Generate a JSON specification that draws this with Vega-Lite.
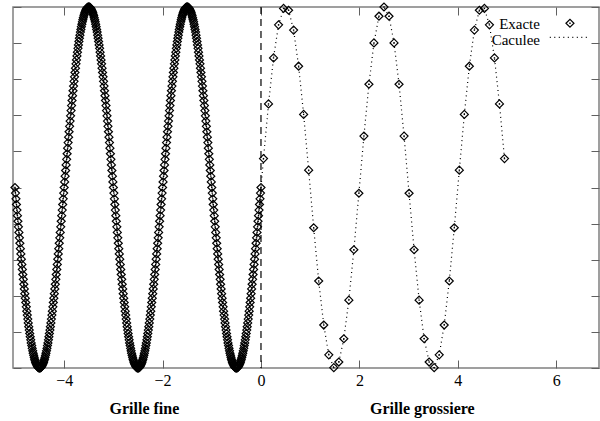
{
"$schema":"https://vega.github.io/schema/vega-lite/v6.json",
"width":586,"height":361,
"autosize":{"type":"none"},
"padding":{"left":13,"top":7,"right":1,"bottom":53},
"background":"white",
"config":{"view":{"stroke":"#808080","strokeWidth":1.5},"font":"Liberation Serif"},
"datasets":{"pts":[
{"x":-5,"y":0},{"x":-4.99,"y":-0.031},{"x":-4.98,"y":-0.063},{"x":-4.97,"y":-0.094},{"x":-4.96,"y":-0.125},{"x":-4.95,"y":-0.156},{"x":-4.94,"y":-0.187},{"x":-4.93,"y":-0.218},{"x":-4.92,"y":-0.249},{"x":-4.91,"y":-0.279},
{"x":-4.9,"y":-0.309},{"x":-4.89,"y":-0.339},{"x":-4.88,"y":-0.368},{"x":-4.87,"y":-0.397},{"x":-4.86,"y":-0.426},{"x":-4.85,"y":-0.454},{"x":-4.84,"y":-0.482},{"x":-4.83,"y":-0.509},{"x":-4.82,"y":-0.536},{"x":-4.81,"y":-0.562},
{"x":-4.8,"y":-0.588},{"x":-4.79,"y":-0.613},{"x":-4.78,"y":-0.637},{"x":-4.77,"y":-0.661},{"x":-4.76,"y":-0.685},{"x":-4.75,"y":-0.707},{"x":-4.74,"y":-0.729},{"x":-4.73,"y":-0.75},{"x":-4.72,"y":-0.771},{"x":-4.71,"y":-0.79},
{"x":-4.7,"y":-0.809},{"x":-4.69,"y":-0.827},{"x":-4.68,"y":-0.844},{"x":-4.67,"y":-0.861},{"x":-4.66,"y":-0.876},{"x":-4.65,"y":-0.891},{"x":-4.64,"y":-0.905},{"x":-4.63,"y":-0.918},{"x":-4.62,"y":-0.93},{"x":-4.61,"y":-0.941},
{"x":-4.6,"y":-0.951},{"x":-4.59,"y":-0.96},{"x":-4.58,"y":-0.969},{"x":-4.57,"y":-0.976},{"x":-4.56,"y":-0.982},{"x":-4.55,"y":-0.988},{"x":-4.54,"y":-0.992},{"x":-4.53,"y":-0.996},{"x":-4.52,"y":-0.998},{"x":-4.51,"y":-1},
{"x":-4.5,"y":-1},{"x":-4.49,"y":-1},{"x":-4.48,"y":-0.998},{"x":-4.47,"y":-0.996},{"x":-4.46,"y":-0.992},{"x":-4.45,"y":-0.988},{"x":-4.44,"y":-0.982},{"x":-4.43,"y":-0.976},{"x":-4.42,"y":-0.969},{"x":-4.41,"y":-0.96},
{"x":-4.4,"y":-0.951},{"x":-4.39,"y":-0.941},{"x":-4.38,"y":-0.93},{"x":-4.37,"y":-0.918},{"x":-4.36,"y":-0.905},{"x":-4.35,"y":-0.891},{"x":-4.34,"y":-0.876},{"x":-4.33,"y":-0.861},{"x":-4.32,"y":-0.844},{"x":-4.31,"y":-0.827},
{"x":-4.3,"y":-0.809},{"x":-4.29,"y":-0.79},{"x":-4.28,"y":-0.771},{"x":-4.27,"y":-0.75},{"x":-4.26,"y":-0.729},{"x":-4.25,"y":-0.707},{"x":-4.24,"y":-0.685},{"x":-4.23,"y":-0.661},{"x":-4.22,"y":-0.637},{"x":-4.21,"y":-0.613},
{"x":-4.2,"y":-0.588},{"x":-4.19,"y":-0.562},{"x":-4.18,"y":-0.536},{"x":-4.17,"y":-0.509},{"x":-4.16,"y":-0.482},{"x":-4.15,"y":-0.454},{"x":-4.14,"y":-0.426},{"x":-4.13,"y":-0.397},{"x":-4.12,"y":-0.368},{"x":-4.11,"y":-0.339},
{"x":-4.1,"y":-0.309},{"x":-4.09,"y":-0.279},{"x":-4.08,"y":-0.249},{"x":-4.07,"y":-0.218},{"x":-4.06,"y":-0.187},{"x":-4.05,"y":-0.156},{"x":-4.04,"y":-0.125},{"x":-4.03,"y":-0.094},{"x":-4.02,"y":-0.063},{"x":-4.01,"y":-0.031},
{"x":-4,"y":0},{"x":-3.99,"y":0.031},{"x":-3.98,"y":0.063},{"x":-3.97,"y":0.094},{"x":-3.96,"y":0.125},{"x":-3.95,"y":0.156},{"x":-3.94,"y":0.187},{"x":-3.93,"y":0.218},{"x":-3.92,"y":0.249},{"x":-3.91,"y":0.279},
{"x":-3.9,"y":0.309},{"x":-3.89,"y":0.339},{"x":-3.88,"y":0.368},{"x":-3.87,"y":0.397},{"x":-3.86,"y":0.426},{"x":-3.85,"y":0.454},{"x":-3.84,"y":0.482},{"x":-3.83,"y":0.509},{"x":-3.82,"y":0.536},{"x":-3.81,"y":0.562},
{"x":-3.8,"y":0.588},{"x":-3.79,"y":0.613},{"x":-3.78,"y":0.637},{"x":-3.77,"y":0.661},{"x":-3.76,"y":0.685},{"x":-3.75,"y":0.707},{"x":-3.74,"y":0.729},{"x":-3.73,"y":0.75},{"x":-3.72,"y":0.771},{"x":-3.71,"y":0.79},
{"x":-3.7,"y":0.809},{"x":-3.69,"y":0.827},{"x":-3.68,"y":0.844},{"x":-3.67,"y":0.861},{"x":-3.66,"y":0.876},{"x":-3.65,"y":0.891},{"x":-3.64,"y":0.905},{"x":-3.63,"y":0.918},{"x":-3.62,"y":0.93},{"x":-3.61,"y":0.941},
{"x":-3.6,"y":0.951},{"x":-3.59,"y":0.96},{"x":-3.58,"y":0.969},{"x":-3.57,"y":0.976},{"x":-3.56,"y":0.982},{"x":-3.55,"y":0.988},{"x":-3.54,"y":0.992},{"x":-3.53,"y":0.996},{"x":-3.52,"y":0.998},{"x":-3.51,"y":1},
{"x":-3.5,"y":1},{"x":-3.49,"y":1},{"x":-3.48,"y":0.998},{"x":-3.47,"y":0.996},{"x":-3.46,"y":0.992},{"x":-3.45,"y":0.988},{"x":-3.44,"y":0.982},{"x":-3.43,"y":0.976},{"x":-3.42,"y":0.969},{"x":-3.41,"y":0.96},
{"x":-3.4,"y":0.951},{"x":-3.39,"y":0.941},{"x":-3.38,"y":0.93},{"x":-3.37,"y":0.918},{"x":-3.36,"y":0.905},{"x":-3.35,"y":0.891},{"x":-3.34,"y":0.876},{"x":-3.33,"y":0.861},{"x":-3.32,"y":0.844},{"x":-3.31,"y":0.827},
{"x":-3.3,"y":0.809},{"x":-3.29,"y":0.79},{"x":-3.28,"y":0.771},{"x":-3.27,"y":0.75},{"x":-3.26,"y":0.729},{"x":-3.25,"y":0.707},{"x":-3.24,"y":0.685},{"x":-3.23,"y":0.661},{"x":-3.22,"y":0.637},{"x":-3.21,"y":0.613},
{"x":-3.2,"y":0.588},{"x":-3.19,"y":0.562},{"x":-3.18,"y":0.536},{"x":-3.17,"y":0.509},{"x":-3.16,"y":0.482},{"x":-3.15,"y":0.454},{"x":-3.14,"y":0.426},{"x":-3.13,"y":0.397},{"x":-3.12,"y":0.368},{"x":-3.11,"y":0.339},
{"x":-3.1,"y":0.309},{"x":-3.09,"y":0.279},{"x":-3.08,"y":0.249},{"x":-3.07,"y":0.218},{"x":-3.06,"y":0.187},{"x":-3.05,"y":0.156},{"x":-3.04,"y":0.125},{"x":-3.03,"y":0.094},{"x":-3.02,"y":0.063},{"x":-3.01,"y":0.031},
{"x":-3,"y":0},{"x":-2.99,"y":-0.031},{"x":-2.98,"y":-0.063},{"x":-2.97,"y":-0.094},{"x":-2.96,"y":-0.125},{"x":-2.95,"y":-0.156},{"x":-2.94,"y":-0.187},{"x":-2.93,"y":-0.218},{"x":-2.92,"y":-0.249},{"x":-2.91,"y":-0.279},
{"x":-2.9,"y":-0.309},{"x":-2.89,"y":-0.339},{"x":-2.88,"y":-0.368},{"x":-2.87,"y":-0.397},{"x":-2.86,"y":-0.426},{"x":-2.85,"y":-0.454},{"x":-2.84,"y":-0.482},{"x":-2.83,"y":-0.509},{"x":-2.82,"y":-0.536},{"x":-2.81,"y":-0.562},
{"x":-2.8,"y":-0.588},{"x":-2.79,"y":-0.613},{"x":-2.78,"y":-0.637},{"x":-2.77,"y":-0.661},{"x":-2.76,"y":-0.685},{"x":-2.75,"y":-0.707},{"x":-2.74,"y":-0.729},{"x":-2.73,"y":-0.75},{"x":-2.72,"y":-0.771},{"x":-2.71,"y":-0.79},
{"x":-2.7,"y":-0.809},{"x":-2.69,"y":-0.827},{"x":-2.68,"y":-0.844},{"x":-2.67,"y":-0.861},{"x":-2.66,"y":-0.876},{"x":-2.65,"y":-0.891},{"x":-2.64,"y":-0.905},{"x":-2.63,"y":-0.918},{"x":-2.62,"y":-0.93},{"x":-2.61,"y":-0.941},
{"x":-2.6,"y":-0.951},{"x":-2.59,"y":-0.96},{"x":-2.58,"y":-0.969},{"x":-2.57,"y":-0.976},{"x":-2.56,"y":-0.982},{"x":-2.55,"y":-0.988},{"x":-2.54,"y":-0.992},{"x":-2.53,"y":-0.996},{"x":-2.52,"y":-0.998},{"x":-2.51,"y":-1},
{"x":-2.5,"y":-1},{"x":-2.49,"y":-1},{"x":-2.48,"y":-0.998},{"x":-2.47,"y":-0.996},{"x":-2.46,"y":-0.992},{"x":-2.45,"y":-0.988},{"x":-2.44,"y":-0.982},{"x":-2.43,"y":-0.976},{"x":-2.42,"y":-0.969},{"x":-2.41,"y":-0.96},
{"x":-2.4,"y":-0.951},{"x":-2.39,"y":-0.941},{"x":-2.38,"y":-0.93},{"x":-2.37,"y":-0.918},{"x":-2.36,"y":-0.905},{"x":-2.35,"y":-0.891},{"x":-2.34,"y":-0.876},{"x":-2.33,"y":-0.861},{"x":-2.32,"y":-0.844},{"x":-2.31,"y":-0.827},
{"x":-2.3,"y":-0.809},{"x":-2.29,"y":-0.79},{"x":-2.28,"y":-0.771},{"x":-2.27,"y":-0.75},{"x":-2.26,"y":-0.729},{"x":-2.25,"y":-0.707},{"x":-2.24,"y":-0.685},{"x":-2.23,"y":-0.661},{"x":-2.22,"y":-0.637},{"x":-2.21,"y":-0.613},
{"x":-2.2,"y":-0.588},{"x":-2.19,"y":-0.562},{"x":-2.18,"y":-0.536},{"x":-2.17,"y":-0.509},{"x":-2.16,"y":-0.482},{"x":-2.15,"y":-0.454},{"x":-2.14,"y":-0.426},{"x":-2.13,"y":-0.397},{"x":-2.12,"y":-0.368},{"x":-2.11,"y":-0.339},
{"x":-2.1,"y":-0.309},{"x":-2.09,"y":-0.279},{"x":-2.08,"y":-0.249},{"x":-2.07,"y":-0.218},{"x":-2.06,"y":-0.187},{"x":-2.05,"y":-0.156},{"x":-2.04,"y":-0.125},{"x":-2.03,"y":-0.094},{"x":-2.02,"y":-0.063},{"x":-2.01,"y":-0.031},
{"x":-2,"y":0},{"x":-1.99,"y":0.031},{"x":-1.98,"y":0.063},{"x":-1.97,"y":0.094},{"x":-1.96,"y":0.125},{"x":-1.95,"y":0.156},{"x":-1.94,"y":0.187},{"x":-1.93,"y":0.218},{"x":-1.92,"y":0.249},{"x":-1.91,"y":0.279},
{"x":-1.9,"y":0.309},{"x":-1.89,"y":0.339},{"x":-1.88,"y":0.368},{"x":-1.87,"y":0.397},{"x":-1.86,"y":0.426},{"x":-1.85,"y":0.454},{"x":-1.84,"y":0.482},{"x":-1.83,"y":0.509},{"x":-1.82,"y":0.536},{"x":-1.81,"y":0.562},
{"x":-1.8,"y":0.588},{"x":-1.79,"y":0.613},{"x":-1.78,"y":0.637},{"x":-1.77,"y":0.661},{"x":-1.76,"y":0.685},{"x":-1.75,"y":0.707},{"x":-1.74,"y":0.729},{"x":-1.73,"y":0.75},{"x":-1.72,"y":0.771},{"x":-1.71,"y":0.79},
{"x":-1.7,"y":0.809},{"x":-1.69,"y":0.827},{"x":-1.68,"y":0.844},{"x":-1.67,"y":0.861},{"x":-1.66,"y":0.876},{"x":-1.65,"y":0.891},{"x":-1.64,"y":0.905},{"x":-1.63,"y":0.918},{"x":-1.62,"y":0.93},{"x":-1.61,"y":0.941},
{"x":-1.6,"y":0.951},{"x":-1.59,"y":0.96},{"x":-1.58,"y":0.969},{"x":-1.57,"y":0.976},{"x":-1.56,"y":0.982},{"x":-1.55,"y":0.988},{"x":-1.54,"y":0.992},{"x":-1.53,"y":0.996},{"x":-1.52,"y":0.998},{"x":-1.51,"y":1},
{"x":-1.5,"y":1},{"x":-1.49,"y":1},{"x":-1.48,"y":0.998},{"x":-1.47,"y":0.996},{"x":-1.46,"y":0.992},{"x":-1.45,"y":0.988},{"x":-1.44,"y":0.982},{"x":-1.43,"y":0.976},{"x":-1.42,"y":0.969},{"x":-1.41,"y":0.96},
{"x":-1.4,"y":0.951},{"x":-1.39,"y":0.941},{"x":-1.38,"y":0.93},{"x":-1.37,"y":0.918},{"x":-1.36,"y":0.905},{"x":-1.35,"y":0.891},{"x":-1.34,"y":0.876},{"x":-1.33,"y":0.861},{"x":-1.32,"y":0.844},{"x":-1.31,"y":0.827},
{"x":-1.3,"y":0.809},{"x":-1.29,"y":0.79},{"x":-1.28,"y":0.771},{"x":-1.27,"y":0.75},{"x":-1.26,"y":0.729},{"x":-1.25,"y":0.707},{"x":-1.24,"y":0.685},{"x":-1.23,"y":0.661},{"x":-1.22,"y":0.637},{"x":-1.21,"y":0.613},
{"x":-1.2,"y":0.588},{"x":-1.19,"y":0.562},{"x":-1.18,"y":0.536},{"x":-1.17,"y":0.509},{"x":-1.16,"y":0.482},{"x":-1.15,"y":0.454},{"x":-1.14,"y":0.426},{"x":-1.13,"y":0.397},{"x":-1.12,"y":0.368},{"x":-1.11,"y":0.339},
{"x":-1.1,"y":0.309},{"x":-1.09,"y":0.279},{"x":-1.08,"y":0.249},{"x":-1.07,"y":0.218},{"x":-1.06,"y":0.187},{"x":-1.05,"y":0.156},{"x":-1.04,"y":0.125},{"x":-1.03,"y":0.094},{"x":-1.02,"y":0.063},{"x":-1.01,"y":0.031},
{"x":-1,"y":0},{"x":-0.99,"y":-0.031},{"x":-0.98,"y":-0.063},{"x":-0.97,"y":-0.094},{"x":-0.96,"y":-0.125},{"x":-0.95,"y":-0.156},{"x":-0.94,"y":-0.187},{"x":-0.93,"y":-0.218},{"x":-0.92,"y":-0.249},{"x":-0.91,"y":-0.279},
{"x":-0.9,"y":-0.309},{"x":-0.89,"y":-0.339},{"x":-0.88,"y":-0.368},{"x":-0.87,"y":-0.397},{"x":-0.86,"y":-0.426},{"x":-0.85,"y":-0.454},{"x":-0.84,"y":-0.482},{"x":-0.83,"y":-0.509},{"x":-0.82,"y":-0.536},{"x":-0.81,"y":-0.562},
{"x":-0.8,"y":-0.588},{"x":-0.79,"y":-0.613},{"x":-0.78,"y":-0.637},{"x":-0.77,"y":-0.661},{"x":-0.76,"y":-0.685},{"x":-0.75,"y":-0.707},{"x":-0.74,"y":-0.729},{"x":-0.73,"y":-0.75},{"x":-0.72,"y":-0.771},{"x":-0.71,"y":-0.79},
{"x":-0.7,"y":-0.809},{"x":-0.69,"y":-0.827},{"x":-0.68,"y":-0.844},{"x":-0.67,"y":-0.861},{"x":-0.66,"y":-0.876},{"x":-0.65,"y":-0.891},{"x":-0.64,"y":-0.905},{"x":-0.63,"y":-0.918},{"x":-0.62,"y":-0.93},{"x":-0.61,"y":-0.941},
{"x":-0.6,"y":-0.951},{"x":-0.59,"y":-0.96},{"x":-0.58,"y":-0.969},{"x":-0.57,"y":-0.976},{"x":-0.56,"y":-0.982},{"x":-0.55,"y":-0.988},{"x":-0.54,"y":-0.992},{"x":-0.53,"y":-0.996},{"x":-0.52,"y":-0.998},{"x":-0.51,"y":-1},
{"x":-0.5,"y":-1},{"x":-0.49,"y":-1},{"x":-0.48,"y":-0.998},{"x":-0.47,"y":-0.996},{"x":-0.46,"y":-0.992},{"x":-0.45,"y":-0.988},{"x":-0.44,"y":-0.982},{"x":-0.43,"y":-0.976},{"x":-0.42,"y":-0.969},{"x":-0.41,"y":-0.96},
{"x":-0.4,"y":-0.951},{"x":-0.39,"y":-0.941},{"x":-0.38,"y":-0.93},{"x":-0.37,"y":-0.918},{"x":-0.36,"y":-0.905},{"x":-0.35,"y":-0.891},{"x":-0.34,"y":-0.876},{"x":-0.33,"y":-0.861},{"x":-0.32,"y":-0.844},{"x":-0.31,"y":-0.827},
{"x":-0.3,"y":-0.809},{"x":-0.29,"y":-0.79},{"x":-0.28,"y":-0.771},{"x":-0.27,"y":-0.75},{"x":-0.26,"y":-0.729},{"x":-0.25,"y":-0.707},{"x":-0.24,"y":-0.685},{"x":-0.23,"y":-0.661},{"x":-0.22,"y":-0.637},{"x":-0.21,"y":-0.613},
{"x":-0.2,"y":-0.588},{"x":-0.19,"y":-0.562},{"x":-0.18,"y":-0.536},{"x":-0.17,"y":-0.509},{"x":-0.16,"y":-0.482},{"x":-0.15,"y":-0.454},{"x":-0.14,"y":-0.426},{"x":-0.13,"y":-0.397},{"x":-0.12,"y":-0.368},{"x":-0.11,"y":-0.339},
{"x":-0.1,"y":-0.309},{"x":-0.09,"y":-0.279},{"x":-0.08,"y":-0.249},{"x":-0.07,"y":-0.218},{"x":-0.06,"y":-0.187},{"x":-0.05,"y":-0.156},{"x":-0.04,"y":-0.125},{"x":-0.03,"y":-0.094},{"x":-0.02,"y":-0.063},{"x":-0.01,"y":-0.031},
{"x":0,"y":0},
{"x":0.051,"y":0.16},{"x":0.153,"y":0.463},{"x":0.255,"y":0.718},{"x":0.357,"y":0.901},{"x":0.459,"y":0.992},{"x":0.561,"y":0.982},{"x":0.663,"y":0.872},{"x":0.765,"y":0.672},{"x":0.867,"y":0.405},{"x":0.969,"y":0.096},
{"x":1.071,"y":-0.223},{"x":1.173,"y":-0.518},{"x":1.276,"y":-0.762},{"x":1.378,"y":-0.927},{"x":1.48,"y":-0.998},{"x":1.582,"y":-0.967},{"x":1.684,"y":-0.838},{"x":1.786,"y":-0.624},{"x":1.888,"y":-0.345},{"x":1.99,"y":-0.032},
{"x":2.092,"y":0.285},{"x":2.194,"y":0.572},{"x":2.296,"y":0.801},{"x":2.398,"y":0.949},{"x":2.5,"y":1},{"x":2.602,"y":0.949},{"x":2.704,"y":0.801},{"x":2.806,"y":0.572},{"x":2.908,"y":0.285},{"x":3.01,"y":-0.032},
{"x":3.112,"y":-0.345},{"x":3.214,"y":-0.624},{"x":3.316,"y":-0.838},{"x":3.418,"y":-0.967},{"x":3.52,"y":-0.998},{"x":3.622,"y":-0.927},{"x":3.724,"y":-0.762},{"x":3.827,"y":-0.518},{"x":3.929,"y":-0.223},{"x":4.031,"y":0.096},
{"x":4.133,"y":0.405},{"x":4.235,"y":0.672},{"x":4.337,"y":0.872},{"x":4.439,"y":0.982},{"x":4.541,"y":0.992},{"x":4.643,"y":0.901},{"x":4.745,"y":0.718},{"x":4.847,"y":0.463},{"x":4.949,"y":0.16}
]},
"resolve":{"axis":{"x":"independent","y":"independent"}},
"layer":[
{"data":{"values":[{}]},
 "mark":{"type":"rule","color":"#000","strokeDash":[7,5],"strokeWidth":1.2},
 "encoding":{"x":{"datum":0,"type":"quantitative","scale":{"domain":[-5.04,6.87],"nice":false,"zero":false},"axis":null}}},
{"data":{"name":"pts"},
 "mark":{"type":"line","color":"#000","strokeDash":[1,3.5],"strokeWidth":1.2},
 "encoding":{
  "x":{"field":"x","type":"quantitative","scale":{"domain":[-5.04,6.87],"nice":false,"zero":false},
       "axis":{"orient":"top","values":[-4,-2,0,2,4,6],"tickSize":-8,"tickColor":"#606060","labels":false,"domain":false,"grid":false,"title":null}},
  "y":{"field":"y","type":"quantitative","scale":{"domain":[-1,1],"nice":false,"zero":false},
       "axis":{"orient":"right","values":[-1,-0.8,-0.6,-0.4,-0.2,0,0.2,0.4,0.6,0.8,1],"tickSize":-8,"tickColor":"#606060","labels":false,"domain":false,"grid":false,"title":null}}}},
{"data":{"name":"pts"},
 "mark":{"type":"point","shape":"diamond","filled":false,"color":"#000","size":64,"strokeWidth":1.2,"opacity":1},
 "encoding":{
  "x":{"field":"x","type":"quantitative","scale":{"domain":[-5.04,6.87],"nice":false,"zero":false},
       "axis":{"orient":"bottom","values":[-4,-2,0,2,4,6],"tickSize":-8,"tickColor":"#606060","domain":false,"grid":false,"title":null,"labelFont":"Liberation Serif","labelFontSize":16,"labelColor":"#000","labelPadding":12,"labelFlush":false}},
  "y":{"field":"y","type":"quantitative","scale":{"domain":[-1,1],"nice":false,"zero":false},
       "axis":{"orient":"left","values":[-1,-0.8,-0.6,-0.4,-0.2,0,0.2,0.4,0.6,0.8,1],"tickSize":-8,"tickColor":"#606060","labels":false,"domain":false,"grid":false,"title":null}}}},
{"data":{"name":"pts"},
 "mark":{"type":"point","shape":"square","filled":true,"color":"#000","size":2,"opacity":1},
 "encoding":{
  "x":{"field":"x","type":"quantitative","scale":{"domain":[-5.04,6.87],"nice":false,"zero":false},"axis":null},
  "y":{"field":"y","type":"quantitative","scale":{"domain":[-1,1],"nice":false,"zero":false},"axis":null}}},
{"data":{"values":[{}]},
 "mark":{"type":"text","align":"right","baseline":"alphabetic","font":"Liberation Serif","fontSize":15,"color":"#000"},
 "encoding":{"x":{"datum":5.67,"type":"quantitative","axis":null},"y":{"datum":0.878,"type":"quantitative","axis":null},"text":{"value":"Exacte"}}},
{"data":{"values":[{}]},
 "mark":{"type":"text","align":"right","baseline":"alphabetic","font":"Liberation Serif","fontSize":15,"color":"#000"},
 "encoding":{"x":{"datum":5.67,"type":"quantitative","axis":null},"y":{"datum":0.79,"type":"quantitative","axis":null},"text":{"value":"Caculee"}}},
{"data":{"values":[{}]},
 "mark":{"type":"point","shape":"diamond","filled":false,"color":"#000","size":64,"strokeWidth":1.2,"opacity":1},
 "encoding":{"x":{"datum":6.28,"type":"quantitative","axis":null},"y":{"datum":0.91,"type":"quantitative","axis":null}}},
{"data":{"values":[{}]},
 "mark":{"type":"point","shape":"square","filled":true,"color":"#000","size":2,"opacity":1},
 "encoding":{"x":{"datum":6.28,"type":"quantitative","axis":null},"y":{"datum":0.91,"type":"quantitative","axis":null}}},
{"data":{"values":[{}]},
 "mark":{"type":"rule","color":"#000","strokeDash":[1,3.5],"strokeWidth":1.2},
 "encoding":{"x":{"datum":5.87,"type":"quantitative","axis":null},"x2":{"datum":6.63},"y":{"datum":0.832,"type":"quantitative","axis":null}}},
{"data":{"values":[{}]},
 "mark":{"type":"text","align":"center","baseline":"alphabetic","font":"Liberation Serif","fontSize":16,"fontWeight":"bold","color":"#000"},
 "encoding":{"x":{"datum":-2.37,"type":"quantitative","axis":null},"y":{"datum":-1.255,"type":"quantitative","axis":null},"text":{"value":"Grille fine"}}},
{"data":{"values":[{}]},
 "mark":{"type":"text","align":"center","baseline":"alphabetic","font":"Liberation Serif","fontSize":16,"fontWeight":"bold","color":"#000"},
 "encoding":{"x":{"datum":3.28,"type":"quantitative","axis":null},"y":{"datum":-1.255,"type":"quantitative","axis":null},"text":{"value":"Grille grossiere"}}}
]
}
